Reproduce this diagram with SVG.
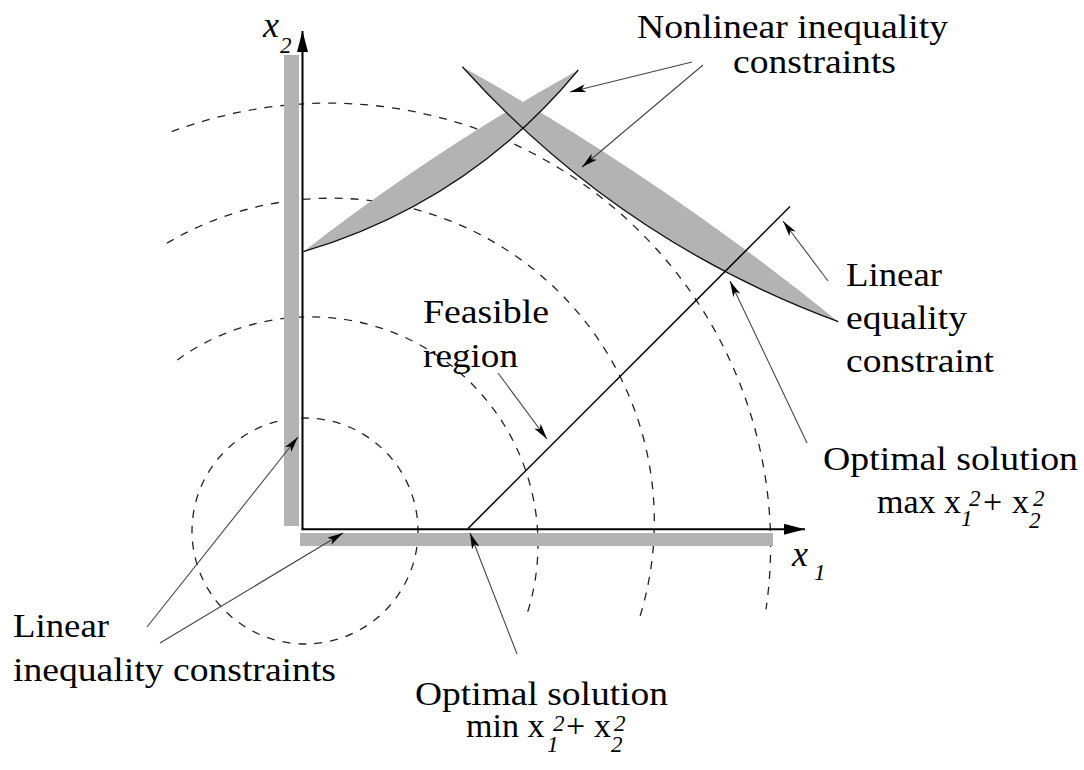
<svg xmlns="http://www.w3.org/2000/svg" width="1084" height="770" viewBox="0 0 1084 770">
<style>
.arc{fill:none;stroke:#222;stroke-width:1.3;stroke-dasharray:8 8}
.bar{fill:#b3b3b3}
.shape{fill:#b3b3b3;stroke:none}
.edge{fill:none;stroke:#111;stroke-width:1.3}
.axis{stroke:#000;stroke-width:2;fill:none}
.ptr{stroke:#444;stroke-width:1.1;fill:none;marker-end:url(#stealth)}
.t{font-family:"Liberation Serif","Times New Roman",serif;font-size:34px;fill:#000}
.s{font-family:"Liberation Serif","Times New Roman",serif;font-size:23px;font-style:italic;fill:#000}
.v{font-family:"Liberation Serif","Times New Roman",serif;font-size:36px;font-style:italic;fill:#000}
</style>
<defs>
<marker id="stealth" viewBox="0 0 16 8" refX="16" refY="4" markerWidth="16" markerHeight="8" markerUnits="userSpaceOnUse" orient="auto">
<path d="M0,0 L16,4 L0,8 L4,4 Z" fill="#000"/>
</marker>
<marker id="axhead" viewBox="0 0 21 11" refX="21" refY="5.5" markerWidth="21" markerHeight="11" markerUnits="userSpaceOnUse" orient="auto">
<path d="M0,0 L21,5.5 L0,11 Z" fill="#000"/>
</marker>
</defs>
<rect width="1084" height="770" fill="#fff"/>
<g id="level-curves">
<circle class="arc" cx="305" cy="531" r="113"/>
<path class="arc" d="M177.3,360 A227.4,227.4 0 0 1 526.7,615"/>
<path class="arc" d="M166.7,243.3 A323,323 0 0 1 638.3,621.7"/>
<path class="arc" d="M171.7,131.7 A442.5,442.5 0 0 1 766,609.3"/>
</g>
<g id="linear-inequality-bars">
<rect class="bar" x="284" y="55" width="15" height="471"/>
<rect class="bar" x="300" y="533" width="473" height="13"/>
</g>
<g id="nonlinear-constraint-1">
<path class="shape" d="M303.3,251.7 Q468.4,202.6 578.3,70 Q434,150 303.3,251.7 Z"/>
</g>
<g id="nonlinear-constraint-2">
<path class="shape" d="M462.3,66.7 Q618.9,240.5 838.3,321.7 Q661,178 462.3,66.7 Z"/>
</g>
<g id="constraint-edges">
<path class="edge" d="M303.3,251.7 Q468.4,202.6 578.3,70"/>
<path class="edge" d="M462.3,66.7 Q618.9,240.5 838.3,321.7"/>
</g>
<g id="axes">
<path class="axis" d="M302.5,529.3 L302.5,31" marker-end="url(#axhead)"/>
<path class="axis" d="M301.5,529.3 L805,529.3" marker-end="url(#axhead)"/>
</g>
<g id="linear-equality">
<path d="M468,528.5 L790,206.5" stroke="#000" stroke-width="1.5" fill="none"/>
</g>
<g id="connectors">
<path class="ptr" d="M692,62 L570,92"/>
<path class="ptr" d="M703,65 L582,167"/>
<path class="ptr" d="M828,281 L783,221"/>
<path class="ptr" d="M807,443 L730,281"/>
<path class="ptr" d="M498,373 L547,439"/>
<path class="ptr" d="M517,654 L470,533"/>
<path class="ptr" d="M147,627 L298,437"/>
<path class="ptr" d="M160,643 L343,533"/>
</g>
<g id="axis-labels">
<text class="v" x="263" y="37">x</text><text class="s" x="280" y="53">2</text>
<text class="v" x="792" y="566">x</text><text class="s" x="814" y="580">1</text>
</g>
<g id="label-nonlinear">
<text class="t" x="637" y="38" textLength="311" lengthAdjust="spacingAndGlyphs">Nonlinear inequality</text>
<text class="t" x="733" y="73" textLength="163" lengthAdjust="spacingAndGlyphs">constraints</text>
</g>
<g id="label-linear-equality">
<text class="t" x="846" y="286" textLength="96" lengthAdjust="spacingAndGlyphs">Linear</text>
<text class="t" x="846" y="329" textLength="121" lengthAdjust="spacingAndGlyphs">equality</text>
<text class="t" x="846" y="372" textLength="148" lengthAdjust="spacingAndGlyphs">constraint</text>
</g>
<g id="label-feasible">
<text class="t" x="423" y="323" textLength="126" lengthAdjust="spacingAndGlyphs">Feasible</text>
<text class="t" x="423" y="367" textLength="95" lengthAdjust="spacingAndGlyphs">region</text>
</g>
<g id="label-max">
<text class="t" x="823" y="470" textLength="255" lengthAdjust="spacingAndGlyphs">Optimal solution</text>
<text class="t" x="877" y="513">max x</text>
<text class="s" x="961" y="526">1</text><text class="s" x="969" y="506">2</text>
<text class="t" x="983" y="513">+</text>
<text class="t" x="1012" y="513">x</text>
<text class="s" x="1029" y="528">2</text><text class="s" x="1033" y="506">2</text>
</g>
<g id="label-min">
<text class="t" x="415" y="705" textLength="253" lengthAdjust="spacingAndGlyphs">Optimal solution</text>
<text class="t" x="466" y="737">min x</text>
<text class="s" x="547" y="752">1</text><text class="s" x="553" y="731">2</text>
<text class="t" x="566" y="737">+</text>
<text class="t" x="594" y="737">x</text>
<text class="s" x="611" y="752">2</text><text class="s" x="614" y="731">2</text>
</g>
<g id="label-linear-inequality">
<text class="t" x="13" y="637" textLength="96" lengthAdjust="spacingAndGlyphs">Linear</text>
<text class="t" x="13" y="681" textLength="323" lengthAdjust="spacingAndGlyphs">inequality constraints</text>
</g>
</svg>
